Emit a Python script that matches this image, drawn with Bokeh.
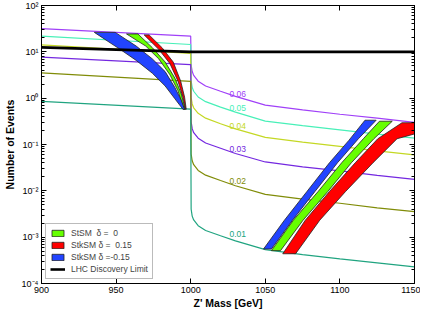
from bokeh.plotting import figure
from bokeh.models import (FixedTicker, LinearAxis, LogAxis, CustomJSTickFormatter,
                          Legend, LegendItem, ColumnDataSource)
from bokeh.core.properties import value
from bokeh.embed import file_html
from bokeh.resources import INLINE

FONT = "Liberation Sans"

# ---- tick values / labels ----
x_ticks = [900, 950, 1000, 1050, 1100, 1150]
y_ticks = [1e-4, 1e-3, 1e-2, 1e-1, 1e0, 1e1, 1e2]
y_tick_labels = ["10\u207b\u2074", "10\u207b\u00b3", "10\u207b\u00b2", "10\u207b\u00b9",
                 "10\u2070", "10\u00b9", "10\u00b2"]

# ---- coupling curves (Z' mass vs number of events) ----
mass_curve = [900, 1000, 1000.3, 1001, 1002, 1005, 1010, 1020, 1030, 1050, 1075, 1100, 1125, 1150]
events_006 = [31.8, 21.8, 5.2, 3.75, 3.1, 2.33, 1.83, 1.41, 1.09, 0.71, 0.56, 0.45, 0.37, 0.30]
events_005 = [21.8, 14.4, 2.38, 1.71, 1.41, 1.06, 0.84, 0.64, 0.50, 0.32, 0.255, 0.207, 0.167, 0.137]
events_004 = [14.2, 9.2, 1.04, 0.75, 0.62, 0.47, 0.37, 0.28, 0.217, 0.142, 0.112, 0.091, 0.073, 0.060]
events_003 = [7.7, 5.3, 0.31, 0.22, 0.18, 0.137, 0.108, 0.083, 0.064, 0.042, 0.033, 0.027, 0.0216, 0.0177]
events_002 = [3.5, 2.3, 0.062, 0.0445, 0.0367, 0.0276, 0.0218, 0.0167, 0.0129, 0.0084, 0.0066, 0.0054, 0.0043, 0.00356]
events_001 = [0.85, 0.58, 0.0040, 0.00285, 0.00235, 0.00177, 0.00139, 0.00107, 0.00083, 0.00054, 0.00042, 0.00034, 0.00028, 0.000228]
curve_names = ["0.06", "0.05", "0.04", "0.03", "0.02", "0.01"]
curve_colors = ["#a040f8", "#48f0b8", "#c4d824", "#7428e0", "#808c08", "#20a480"]
label_mass = [1026, 1026, 1026, 1026, 1026, 1026]
label_events = [1.25, 0.611, 0.247, 0.0788, 0.01637, 0.00119]

# ---- LHC discovery limit ----
lhc_mass = [900, 1000, 1150]
lhc_events = [12.5, 10.0, 10.0]

# ---- model bands (left branch, M < 1000) ----
blue_left_m = [935.4, 952.7, 963.5, 974.3, 982.9, 989.4, 994.8, 995.9, 993.7, 989.4, 982.9, 974.3, 963.5, 949.4]
blue_left_n = [26.3, 11.3, 6.52, 3.45, 1.83, 0.97, 0.574, 0.574, 0.895, 1.69, 3.74, 7.04, 13.3, 26.3]
green_left_m = [957.0, 969.9, 978.6, 986.1, 991.5, 995.4, 996.3, 993.7, 989.4, 982.9, 974.3, 964.6]
green_left_n = [24.3, 13.3, 7.04, 3.19, 1.44, 0.574, 0.574, 1.23, 2.71, 6.02, 12.3, 24.3]
red_left_m = [968.8, 978.6, 986.1, 991.5, 994.8, 996.5, 997.0, 995.9, 993.3, 988.3, 980.8, 972.1]
red_left_n = [23.2, 11.3, 5.55, 2.32, 1.05, 0.574, 0.574, 1.05, 2.32, 6.02, 12.3, 23.2]

# ---- model bands (right branch, M > 1000) ----
blue_right_m = [1048.8, 1062.8, 1077.9, 1093.0, 1106.0, 1116.8, 1124.3, 1112.4, 1098.4, 1083.3, 1068.2, 1054.1]
blue_right_n = [0.000555, 0.00232, 0.00968, 0.0404, 0.1227, 0.334, 0.334, 0.133, 0.0404, 0.00968, 0.00232, 0.000555]
green_right_m = [1054.1, 1068.8, 1085.4, 1101.2, 1115.7, 1126.5, 1135.1, 1122.8, 1107.7, 1091.9, 1075.3, 1060.2]
green_right_n = [0.000512, 0.00232, 0.00968, 0.0404, 0.133, 0.318, 0.318, 0.133, 0.0404, 0.00968, 0.00232, 0.000512]
red_right_m = [1061.7, 1076.8, 1093.0, 1110.3, 1125.4, 1141.6, 1150.0, 1150.0, 1138.3, 1122.2, 1103.8, 1086.5, 1070.3]
red_right_n = [0.000438, 0.00232, 0.00968, 0.0404, 0.133, 0.2947, 0.2947, 0.169, 0.133, 0.0404, 0.00968, 0.00232, 0.000438]

BLUE = "#2244ff"
GREEN = "#66ff00"
RED = "#ff0000"

p = figure(width=420, height=311, x_range=(900, 1150), y_range=(1e-4, 1e2),
           y_axis_type="log", output_backend="svg", toolbar_location=None,
           min_border_left=30, min_border_right=6, min_border_top=5, min_border_bottom=24,
           background_fill_color="white", border_fill_color="white")
p.xgrid.visible = False
p.ygrid.visible = False
p.outline_line_color = "black"
p.outline_line_width = 1

bottom = p.below[0]
left = p.left[0]

# coupling curves
all_curves = [events_006, events_005, events_004, events_003, events_002, events_001]
for vals, col in zip(all_curves, curve_colors):
    p.line(mass_curve, vals, line_color=col, line_width=1.2)

# bands
def band(m, n, col):
    return p.patch(m, n, fill_color=col, line_color="#222222", line_width=0.8)

g1 = band(green_left_m, green_left_n, GREEN)
r1 = band(red_left_m, red_left_n, RED)
b1 = band(blue_left_m, blue_left_n, BLUE)
band(green_right_m, green_right_n, GREEN)
band(red_right_m, red_right_n, RED)
band(blue_right_m, blue_right_n, BLUE)

lhc = p.line(lhc_mass, lhc_events, line_color="black", line_width=2.6)

# curve labels
src = ColumnDataSource(dict(x=label_mass, y=label_events, t=curve_names, c=curve_colors))
p.text(x="x", y="y", text="t", text_color="c", source=src, text_font=value(FONT),
       text_font_size="8.5px", text_baseline="middle", text_align="left")

# axes
xt = FixedTicker(ticks=x_ticks)
minor_y = [k * d for d in [1e-4, 1e-3, 1e-2, 1e-1, 1e0, 1e1] for k in range(2, 10)]
yt = FixedTicker(ticks=y_ticks, minor_ticks=minor_y)
yfmt = CustomJSTickFormatter(args=dict(tvals=y_ticks, tlabels=y_tick_labels), code="""
    for (let i = 0; i < tvals.length; i++) {
        if (Math.abs(Math.log10(tick) - Math.log10(tvals[i])) < 1e-6) { return tlabels[i]; }
    }
    return '';
""")
blank = CustomJSTickFormatter(code="return '';")

bottom.ticker = xt
bottom.axis_label = "Z' Mass [GeV]"
left.ticker = yt
left.formatter = yfmt
left.axis_label = "Number of Events"

top = LinearAxis(ticker=xt, formatter=blank)
right = LogAxis(ticker=yt, formatter=blank)
p.add_layout(top, "above")
p.add_layout(right, "right")

for ax in [bottom, top]:
    ax.minor_tick_line_color = None
for ax in [bottom, left, top, right]:
    ax.major_tick_in = 5
    ax.major_tick_out = 0
    ax.minor_tick_in = 3
    ax.minor_tick_out = 0
    ax.axis_line_color = "black"
    ax.major_tick_line_color = "black"
    ax.major_label_text_font = FONT
    ax.major_label_text_font_size = "9px"
    ax.major_label_text_color = "black"
    ax.axis_label_text_font = FONT
    ax.axis_label_text_font_size = "10.5px"
    ax.axis_label_text_font_style = "bold"
    ax.axis_label_text_color = "black"
for ax in [top, right]:
    ax.major_label_standoff = 0
bottom.major_label_standoff = 3
bottom.axis_label_standoff = 1
left.major_label_standoff = 3
left.axis_label_standoff = 3

legend = Legend(items=[
    LegendItem(label="StSM  \u03b4 =  0", renderers=[g1]),
    LegendItem(label="StkSM \u03b4 =  0.15", renderers=[r1]),
    LegendItem(label="StkSM \u03b4 =-0.15", renderers=[b1]),
    LegendItem(label="LHC Discovery Limit", renderers=[lhc]),
], location="bottom_left")
legend.label_text_font = FONT
legend.label_text_font_size = "8.5px"
legend.label_height = 8
legend.glyph_height = 8
legend.glyph_width = 15
legend.spacing = 2
legend.padding = 4
legend.margin = 4
legend.label_standoff = 6
legend.border_line_color = "#777777"
legend.border_line_width = 1.5
legend.background_fill_alpha = 1.0
p.add_layout(legend, "center")

open("out.html", "w").write(file_html(p, INLINE))
